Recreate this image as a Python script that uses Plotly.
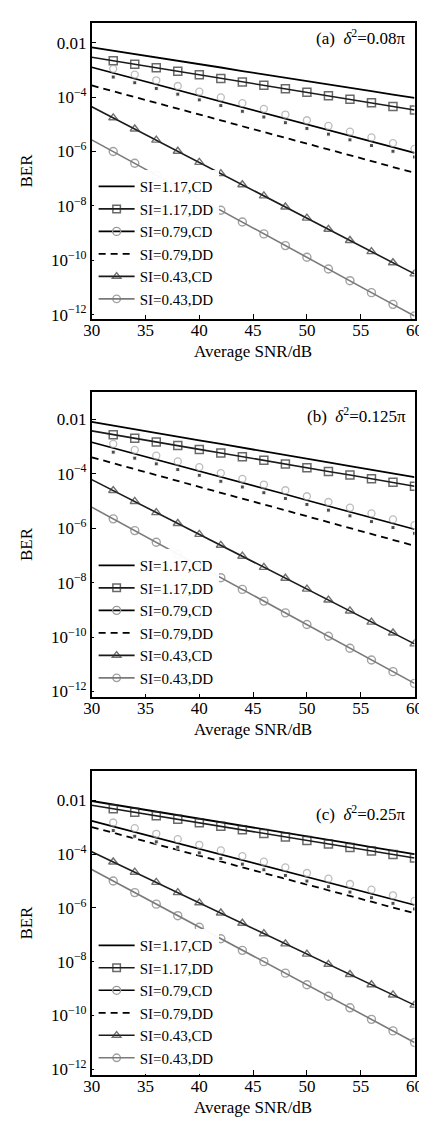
import plotly.graph_objects as go

# ---------------- data (log10 of BER) ----------------
snr_db = [30, 32, 34, 36, 38, 40, 42, 44, 46, 48, 50, 52, 54, 56, 58, 60]
x_tickvals = [30, 35, 40, 45, 50, 55, 60]
y_tickvals = [1e-2, 1e-4, 1e-6, 1e-8, 1e-10, 1e-12]
y_ticktext = ["0.01", "10<sup>−4</sup>", "10<sup>−6</sup>", "10<sup>−8</sup>",
              "10<sup>−10</sup>", "10<sup>−12</sup>"]
series_names = ["SI=1.17,CD", "SI=1.17,DD", "SI=0.79,CD", "SI=0.79,DD",
                "SI=0.43,CD", "SI=0.43,DD"]
panel_labels = ["(a)  <i>δ</i><sup>2</sup>=0.08π",
                "(b)  <i>δ</i><sup>2</sup>=0.125π",
                "(c)  <i>δ</i><sup>2</sup>=0.25π"]

# panel (a)
a_117_cd = [-2.17, -2.29, -2.42, -2.54, -2.67, -2.79, -2.91, -3.04, -3.16, -3.29, -3.41, -3.53, -3.66, -3.78, -3.91, -4.03]
a_117_dd = [-2.53, -2.66, -2.79, -2.92, -3.05, -3.18, -3.31, -3.44, -3.56, -3.69, -3.82, -3.95, -4.08, -4.21, -4.34, -4.47]
a_079_cd = [-2.90, -3.11, -3.32, -3.53, -3.74, -3.95, -4.16, -4.37, -4.58, -4.79, -5.00, -5.21, -5.42, -5.63, -5.84, -6.05]
a_079_dd = [-3.57, -3.78, -4.00, -4.21, -4.43, -4.64, -4.85, -5.07, -5.28, -5.50, -5.71, -5.92, -6.14, -6.35, -6.57, -6.78]
a_043_cd = [-4.35, -4.76, -5.17, -5.58, -5.99, -6.40, -6.81, -7.22, -7.63, -8.04, -8.45, -8.86, -9.27, -9.68, -10.09, -10.50]
a_043_dd = [-5.57, -6.00, -6.43, -6.87, -7.30, -7.73, -8.16, -8.59, -9.03, -9.46, -9.89, -10.32, -10.75, -11.19, -11.62, -12.05]

# panel (b)
b_117_cd = [-2.10, -2.24, -2.37, -2.51, -2.64, -2.78, -2.91, -3.05, -3.18, -3.32, -3.45, -3.59, -3.72, -3.86, -3.99, -4.13]
b_117_dd = [-2.43, -2.57, -2.70, -2.84, -2.97, -3.11, -3.24, -3.38, -3.51, -3.65, -3.78, -3.92, -4.05, -4.19, -4.32, -4.46]
b_079_cd = [-2.85, -3.06, -3.28, -3.49, -3.70, -3.91, -4.13, -4.34, -4.55, -4.76, -4.98, -5.19, -5.40, -5.61, -5.83, -6.04]
b_079_dd = [-3.40, -3.62, -3.83, -4.05, -4.27, -4.48, -4.70, -4.92, -5.13, -5.35, -5.57, -5.78, -6.00, -6.22, -6.43, -6.65]
b_043_cd = [-4.22, -4.62, -5.02, -5.43, -5.83, -6.23, -6.63, -7.03, -7.44, -7.84, -8.24, -8.64, -9.04, -9.45, -9.85, -10.25]
b_043_dd = [-5.23, -5.66, -6.09, -6.52, -6.96, -7.39, -7.82, -8.25, -8.68, -9.11, -9.54, -9.97, -10.41, -10.84, -11.27, -11.70]

# panel (c)
c_117_cd = [-2.02, -2.15, -2.28, -2.42, -2.55, -2.68, -2.81, -2.94, -3.08, -3.21, -3.34, -3.47, -3.60, -3.74, -3.87, -4.00]
c_117_dd = [-2.18, -2.31, -2.44, -2.57, -2.70, -2.83, -2.96, -3.09, -3.23, -3.36, -3.49, -3.62, -3.75, -3.88, -4.01, -4.14]
c_079_cd = [-2.76, -2.97, -3.18, -3.39, -3.59, -3.80, -4.01, -4.22, -4.43, -4.64, -4.85, -5.06, -5.26, -5.47, -5.68, -5.89]
c_079_dd = [-2.99, -3.20, -3.42, -3.63, -3.85, -4.06, -4.27, -4.49, -4.70, -4.92, -5.13, -5.34, -5.56, -5.77, -5.99, -6.20]
c_043_cd = [-3.91, -4.29, -4.67, -5.05, -5.43, -5.81, -6.19, -6.57, -6.96, -7.34, -7.72, -8.10, -8.48, -8.86, -9.24, -9.62]
c_043_dd = [-4.57, -5.00, -5.43, -5.86, -6.29, -6.72, -7.15, -7.58, -8.00, -8.43, -8.86, -9.29, -9.72, -10.15, -10.58, -11.01]

panels_data = [
    [a_117_cd, a_117_dd, a_079_cd, a_079_dd, a_043_cd, a_043_dd],
    [b_117_cd, b_117_dd, b_079_cd, b_079_dd, b_043_cd, b_043_dd],
    [c_117_cd, c_117_dd, c_079_cd, c_079_dd, c_043_cd, c_043_dd],
]

# ---------------- layout constants ----------------
W, H = 427, 1122
FONT = "Liberation Serif"
x_dom = [78 / W, 415 / W]
panel_px = [(15, 312.7), (386, 692.7), (767.3, 1072.7)]   # top, bottom in px
y_ranges = [(-12.16, -1.27), (-12.2, -1.0), (-12.22, -0.91)]
label_y_px = [29, 409, 809]
legend_top_px = [163, 544, 926]
SHIFT = 0.15

def ber(vals):
    return [10 ** v for v in vals]

msize = [0] + [8] * 15
dsize = [0] + [4] * 15

fig = go.Figure()
layout = dict(
    width=W, height=H, margin=dict(l=0, r=0, t=0, b=0),
    paper_bgcolor="white", plot_bgcolor="white",
    font=dict(family=FONT, size=17, color="black"),
    showlegend=True, annotations=[],
)

for i, vals in enumerate(panels_data):
    sfx = "" if i == 0 else str(i + 1)
    xa, ya = "x" + sfx, "y" + sfx
    ya_up, ya_dn = "y" + str(4 + 2 * i), "y" + str(5 + 2 * i)
    leg = "legend" + sfx
    lo, hi = y_ranges[i]
    top, bot = panel_px[i]

    common = dict(xaxis=xa, yaxis=ya, legend=leg)
    # SI=1.17,CD
    fig.add_trace(go.Scatter(x=snr_db, y=ber(vals[0]), mode="lines", name=series_names[0],
                             line=dict(color="black", width=1.8), **common))
    # SI=1.17,DD
    fig.add_trace(go.Scatter(x=snr_db, y=ber(vals[1]), mode="lines+markers", name=series_names[1],
                             line=dict(color="#1a1a1a", width=1.6),
                             marker=dict(symbol="square-open", size=msize, color="#2a2a2a",
                                         line=dict(width=1.5, color="#2a2a2a")), **common))
    # SI=0.79,CD : legend entry, line, grey circles above, black dots below
    fig.add_trace(go.Scatter(x=[None], y=[None], mode="lines+markers", name=series_names[2],
                             line=dict(color="black", width=1.6),
                             marker=dict(symbol="circle-open", size=8, color="#999999",
                                         line=dict(width=1.3, color="#999999")), **common))
    fig.add_trace(go.Scatter(x=snr_db, y=ber(vals[2]), mode="lines", showlegend=False,
                             line=dict(color="black", width=1.6), **common))
    fig.add_trace(go.Scatter(x=snr_db, y=ber(vals[2]), mode="markers", showlegend=False,
                             xaxis=xa, yaxis=ya_up,
                             marker=dict(symbol="circle-open", size=[0] + [7] * 15, color="#a0a0a0",
                                         line=dict(width=1.3, color="#a0a0a0"))))
    fig.add_trace(go.Scatter(x=snr_db, y=ber(vals[2]), mode="markers", showlegend=False,
                             xaxis=xa, yaxis=ya_dn,
                             marker=dict(symbol="square", size=dsize, color="black")))
    # SI=0.79,DD
    fig.add_trace(go.Scatter(x=snr_db, y=ber(vals[3]), mode="lines", name=series_names[3],
                             line=dict(color="black", width=1.8, dash="7px,5px"), **common))
    # SI=0.43,CD
    fig.add_trace(go.Scatter(x=snr_db, y=ber(vals[4]), mode="lines+markers", name=series_names[4],
                             line=dict(color="#1a1a1a", width=1.6),
                             marker=dict(symbol="triangle-up-open", size=msize, color="#333333",
                                         line=dict(width=1.4, color="#333333")), **common))
    # SI=0.43,DD
    fig.add_trace(go.Scatter(x=snr_db, y=ber(vals[5]), mode="lines+markers", name=series_names[5],
                             line=dict(color="#7a7a7a", width=1.6),
                             marker=dict(symbol="circle-open", size=msize, color="#7a7a7a",
                                         line=dict(width=1.4, color="#7a7a7a")), **common))

    ydom = [1 - bot / H, 1 - top / H]
    layout["xaxis" + sfx] = dict(
        domain=x_dom, anchor=ya, range=[30, 60], tickvals=x_tickvals,
        ticks="inside", ticklen=5, tickwidth=1, tickcolor="black", ticklabelstandoff=-5,
        showline=True, linecolor="black", linewidth=1.5, mirror=True,
        showgrid=False, zeroline=False, tickfont=dict(family=FONT, size=17),
        title=dict(text="Average SNR/dB", font=dict(family=FONT, size=17), standoff=6),
    )
    layout["yaxis" + sfx] = dict(
        domain=ydom, anchor=xa, type="log", range=[lo, hi],
        tickvals=y_tickvals, ticktext=y_ticktext,
        ticks="inside", ticklen=5, tickwidth=1, tickcolor="black",
        showline=True, linecolor="black", linewidth=1.5, mirror=True,
        showgrid=False, zeroline=False, tickfont=dict(family=FONT, size=17),
        title=dict(text="BER", font=dict(family=FONT, size=17), standoff=14),
    )
    layout["yaxis" + str(4 + 2 * i)] = dict(
        overlaying=ya, anchor=xa, type="log", range=[lo - SHIFT, hi - SHIFT], visible=False)
    layout["yaxis" + str(5 + 2 * i)] = dict(
        overlaying=ya, anchor=xa, type="log", range=[lo + SHIFT, hi + SHIFT], visible=False)

    layout[leg] = dict(
        x=80 / W, y=1 - legend_top_px[i] / H, xanchor="left", yanchor="top",
        bgcolor="rgba(255,255,255,0.95)", borderwidth=0,
        font=dict(family=FONT, size=15, color="black"),
        itemwidth=36, tracegroupgap=0,
    )
    layout["annotations"].append(dict(
        text=panel_labels[i], x=408 / W, y=1 - label_y_px[i] / H, xref="paper", yref="paper",
        xanchor="right", yanchor="middle", showarrow=False,
        font=dict(family=FONT, size=17, color="black")))

fig.update_layout(**layout)
fig.write_html("out.html")
